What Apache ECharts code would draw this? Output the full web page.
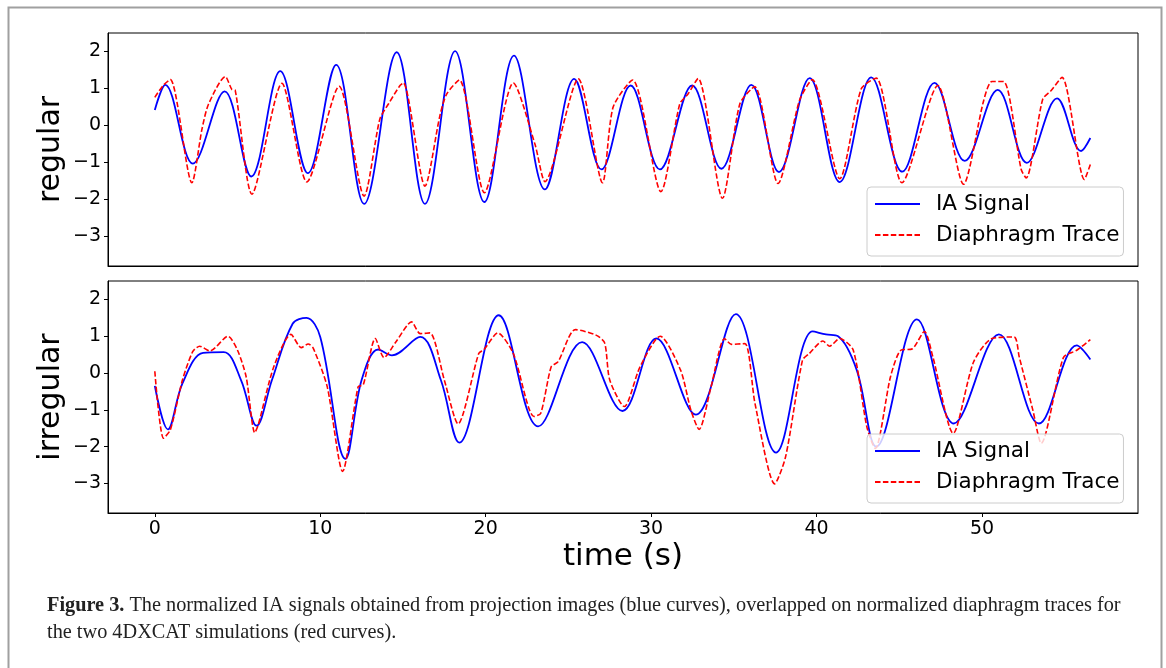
<!DOCTYPE html>
<html><head><meta charset="utf-8">
<script src="https://cdn.jsdelivr.net/npm/echarts@6/dist/echarts.min.js"></script>
<style>html,body{margin:0;padding:0;background:#fff}#c{width:1166px;height:668px}</style>
</head><body><div id="c"></div>
<script>
const xTicks = [0, 10, 20, 30, 40, 50];
const yTicks = [-3, -2, -1, 0, 1, 2];
const yTickLabels = ['\u22123', '\u22122', '\u22121', '0', '1', '2'];
const seriesNames = ['IA Signal', 'Diaphragm Trace'];
const panelLabels = ['regular', 'irregular'];
const xAxisTitle = 'time (s)';
const captionBold = 'Figure 3.';
const captionLine1 = ' The normalized IA signals obtained from projection images (blue curves), overlapped on normalized diaphragm traces for';
const captionLine2 = 'the two 4DXCAT simulations (red curves).';

// [time (s), normalized value]
const regularIA = [[0,0.42],[0.63,1.10],[2.3,-1.03],[4.22,0.92],[5.83,-1.38],[7.58,1.47],[9.25,-1.29],[10.96,1.64],[12.65,-2.12],[14.62,1.98],[16.33,-2.12],[18.15,2.01],[19.92,-2.07],[21.71,1.89],[23.58,-1.73],[25.35,1.26],[27.0,-1.19],[28.76,1.08],[30.53,-1.19],[32.48,1.08],[34.25,-1.17],[36.06,1.10],[37.73,-1.26],[39.58,1.28],[41.4,-1.53],[43.31,1.30],[45.18,-1.25],[47.13,1.15],[48.96,-0.96],[50.95,0.96],[52.71,-1.01],[54.54,0.73],[55.99,-0.69],[56.55,-0.34]];
const regularDia = [[0,0.76],[0.5,1.08],[0.94,1.24],[2.24,-1.55],[2.85,-0.1],[3.25,0.58],[4.26,1.32],[4.66,0.97],[4.86,0.95],[5.87,-1.86],[7.68,1.14],[9.19,-1.53],[11.14,1.06],[12.65,-1.91],[13.6,0.17],[14.12,0.58],[14.82,1.08],[15.02,1.15],[16.33,-1.64],[17.23,0.26],[17.64,0.85],[18.41,1.23],[19.92,-1.82],[21.67,1.15],[22.98,-0.51],[23.58,-1.52],[25.6,1.26],[27.06,-1.55],[27.7,0.49],[28.88,1.23],[30.59,-1.79],[31.73,0.58],[32.23,0.85],[32.84,1.27],[34.31,-1.97],[35.36,0.58],[36.26,1.05],[37.67,-1.57],[38.97,0.68],[39.74,1.24],[41.4,-1.44],[42.7,0.99],[43.61,1.28],[45.16,-1.55],[47.33,1.08],[48.88,-1.59],[50.1,0.67],[50.6,1.19],[51.3,1.19],[52.37,-1.19],[52.67,-1.42],[53.67,0.71],[54.17,0.94],[54.84,1.30],[56.19,-1.46],[56.55,-1.05]];
const irregularIA = [[0,-0.35],[0.79,-1.53],[1.67,-0.28],[2.92,0.55],[4.17,0.57],[5.21,-0.19],[6.15,-1.43],[7.08,-0.19],[8.33,1.34],[9.17,1.50],[10.0,0.98],[11.52,-2.33],[12.5,-0.19],[13.5,0.64],[14.33,0.48],[16.04,0.98],[17.29,-0.19],[18.4,-1.89],[20.79,1.57],[23.17,-1.45],[25.83,0.84],[28.27,-1.03],[30.31,0.94],[32.7,-1.13],[35.12,1.60],[37.55,-2.16],[39.76,1.13],[40.57,1.05],[41.3,1.0],[42.43,0.08],[43.61,-2.0],[46.07,1.46],[48.3,-1.37],[51.02,1.05],[53.44,-1.37],[55.73,0.75],[56.55,0.37]];
const irregularDia = [[0,0.05],[0.52,-1.77],[0.94,-1.54],[1.67,-0.19],[2.29,0.58],[2.71,0.73],[3.33,0.6],[4.42,1.0],[5.0,0.62],[5.52,-0.1],[6.04,-1.62],[6.25,-1.41],[7.19,0.17],[8.23,1.05],[8.85,0.69],[9.27,0.79],[9.58,0.67],[10.42,-0.37],[11.35,-2.67],[12.29,-0.37],[12.6,-0.32],[13.33,0.94],[13.85,0.42],[14.58,0.85],[15.52,1.39],[16.04,1.07],[16.63,1.09],[17.5,-0.19],[18.33,-1.38],[19.58,0.53],[19.9,0.64],[20.73,1.09],[21.67,0.53],[22.92,-1.18],[23.33,-1.09],[23.96,0.17],[24.38,0.31],[25.42,1.18],[26.67,1.03],[27.19,0.82],[27.5,-0.19],[28.38,-0.91],[29.33,0.17],[30.55,1.0],[31.78,0.08],[32.4,-1.0],[32.9,-1.53],[33.62,-0.38],[34.44,0.94],[34.85,0.78],[35.67,0.8],[36.28,-0.83],[37.47,-3.01],[38.13,-2.27],[39.15,0.35],[39.56,0.53],[40.38,0.87],[40.79,0.73],[41.4,0.94],[42.22,0.62],[43.04,-1.46],[43.55,-2.05],[44.47,-0.1],[45.09,0.62],[45.8,0.66],[46.52,1.13],[47.03,0.44],[48.26,-1.64],[49.49,0.3],[50.61,0.94],[51.94,0.98],[52.25,0.44],[53.07,-1.0],[53.58,-1.91],[54.92,0.42],[55.73,0.62],[56.55,0.91]];

const FONT = 'DejaVu Sans';
const chart = echarts.init(document.getElementById('c'), null, {renderer: 'canvas'});

const grids = [
  {left: 108, width: 1030, top: 33, height: 233},
  {left: 108, width: 1030, top: 281, height: 232}
].map(g => Object.assign(g, {show: true, borderColor: '#000', borderWidth: 1, backgroundColor: 'transparent'}));

function xAxis(i, showLabels) {
  return {
    type: 'value', gridIndex: i, min: -2.83, max: 59.43,
    axisLine: {show: true, onZero: false, lineStyle: {color: '#000', width: 1}},
    axisTick: {show: showLabels, length: 4, customValues: xTicks, lineStyle: {color: '#000'}},
    axisLabel: {show: showLabels, customValues: xTicks, margin: 7, fontSize: 19, fontFamily: FONT, color: '#000'},
    splitLine: {show: false}
  };
}
function yAxis(i) {
  return {
    type: 'value', gridIndex: i, min: -3.8, max: 2.5,
    axisLine: {show: true, onZero: false, lineStyle: {color: '#000', width: 1}},
    axisTick: {show: true, length: 4, customValues: yTicks, lineStyle: {color: '#000'}},
    axisLabel: {customValues: yTicks, margin: 7, fontSize: 19, fontFamily: FONT, color: '#000',
      formatter: v => yTickLabels[yTicks.indexOf(v)]},
    splitLine: {show: false}
  };
}
function blue(i, data) {
  return {name: seriesNames[0], type: 'line', xAxisIndex: i, yAxisIndex: i, data: data,
    smooth: 0.36, symbol: 'none', showSymbol: false, color: '#0000ff',
    lineStyle: {color: '#0000ff', width: 1.8}, z: 3};
}
function red(i, data) {
  return {name: seriesNames[1], type: 'line', xAxisIndex: i, yAxisIndex: i, data: data,
    smooth: 0.25, symbol: 'none', showSymbol: false, color: '#ff0000',
    lineStyle: {color: '#ff0000', width: 1.6, type: [5.5, 2.4]}, z: 3};
}
function legend(top) {
  return {
    data: seriesNames, orient: 'vertical', left: 867, top: top,
    backgroundColor: 'rgba(255,255,255,0.8)', borderColor: '#cccccc', borderWidth: 1, borderRadius: 4,
    padding: [5, 4, 9, 7], itemWidth: 45, itemHeight: 14, itemGap: 7,
    itemStyle: {opacity: 0},
    lineStyle: {opacity: 1},
    textStyle: {fontSize: 21.5, fontFamily: FONT, color: '#000', padding: [0, 0, 0, 11], lineHeight: 24},
    selectedMode: false, z: 10
  };
}

const option = {
  animation: false,
  backgroundColor: '#fff',
  grid: grids,
  xAxis: [xAxis(0, false), xAxis(1, true)],
  yAxis: [yAxis(0), yAxis(1)],
  legend: [legend(187), legend(434)],
  series: [blue(0, regularIA), red(0, regularDia), blue(1, irregularIA), red(1, irregularDia)],
  graphic: [
    {type: 'rect', shape: {x: 8.5, y: 7.5, width: 1153, height: 700}, style: {fill: 'none', stroke: '#a0a0a0', lineWidth: 2}, z: 0, silent: true},
    {type: 'text', x: 51, y: 149.5, rotation: Math.PI / 2, style: {text: panelLabels[0], font: '30px "DejaVu Sans"', fill: '#000', textAlign: 'center', textVerticalAlign: 'middle'}},
    {type: 'text', x: 51, y: 397, rotation: Math.PI / 2, style: {text: panelLabels[1], font: '30px "DejaVu Sans"', fill: '#000', textAlign: 'center', textVerticalAlign: 'middle'}},
    {type: 'text', x: 623, y: 557, style: {text: xAxisTitle, font: '31px "DejaVu Sans"', fill: '#000', textAlign: 'center', textVerticalAlign: 'middle'}},
    {type: 'text', x: 47, y: 606, style: {text: '{b|' + captionBold + '}' + captionLine1, fontSize: 20.3, fontFamily: 'Liberation Serif', fill: '#222', textVerticalAlign: 'middle',
      rich: {b: {fontWeight: 'bold', fontSize: 20.3, fontFamily: 'Liberation Serif', fill: '#222'}}}},
    {type: 'text', x: 47, y: 633, style: {text: captionLine2, fontSize: 20.3, fontFamily: 'Liberation Serif', fill: '#222', textVerticalAlign: 'middle'}}
  ]
};
chart.setOption(option);
</script>
</body></html>
